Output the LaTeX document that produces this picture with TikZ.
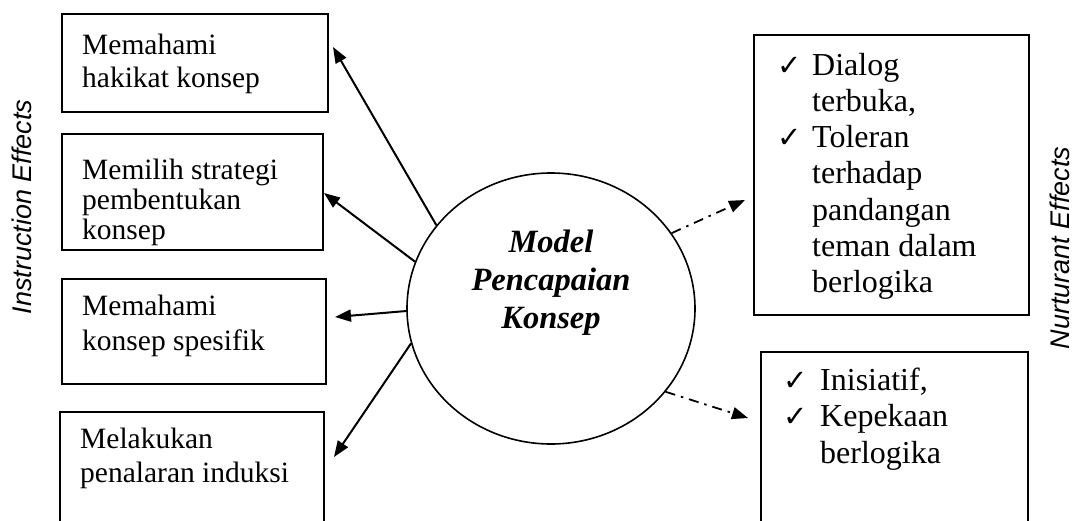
\documentclass[tikz,border=0pt]{standalone}
\usepackage{fontspec}
\setmainfont{Liberation Serif}
\setsansfont{Liberation Sans}
\newfontfamily\symfont{DejaVu Sans}
\usetikzlibrary{arrows.meta,shapes.geometric}

% check mark for the bullet lists
\newcommand\chk{{\symfont\fontsize{29}{29}\selectfont ✓}}
% block of lines with fixed line spacing, baseline at the first line
\newcommand\lineblock[2][8cm]{\parbox[t]{#1}{\lineskiplimit=-100pt\relax #2}}

\begin{document}
\begin{tikzpicture}[x=1pt,y=-1pt,
  effectbox/.style={draw, line width=1.7pt, rectangle, inner sep=0pt},
  txt/.style={anchor=base west, inner sep=0pt},
  side/.style={rotate=90, inner sep=0pt, font=\sffamily\itshape\fontsize{27}{27}\selectfont},
  arr/.style={line width=2pt, -{Triangle[length=16pt,width=12pt]}},
  dasharr/.style={line width=1.8pt, dash pattern=on 10pt off 6pt on 2.5pt off 6pt,
    -{Triangle[length=16pt,width=12pt]}},
]
\useasboundingbox (0,0) rectangle (1080,520);
\clip (0,0) rectangle (1080,520);

% instruction effects (left column)
\node[effectbox, minimum width=266pt, minimum height=98pt, anchor=north west] (b1) at (61,13) {};
\node[effectbox, minimum width=261pt, minimum height=116pt, anchor=north west] (b2) at (61,133) {};
\node[effectbox, minimum width=264pt, minimum height=105pt, anchor=north west] (b3) at (61,278) {};
\node[effectbox, minimum width=264pt, minimum height=130pt, anchor=north west] (b4) at (59,411) {};

\node[txt, font=\fontsize{29.5}{33}\selectfont] (t1) at (82,54) {\lineblock{Memahami\\hakikat konsep}};
\node[txt, font=\fontsize{29.5}{30}\selectfont] (t2) at (82,179) {\lineblock{Memilih strategi\\pembentukan\\konsep}};
\node[txt, font=\fontsize{29.5}{35}\selectfont] (t3) at (82,315) {\lineblock{Memahami\\konsep spesifik}};
\node[txt, font=\fontsize{29.5}{34}\selectfont] (t4) at (80,448) {\lineblock{Melakukan\\penalaran induksi}};

% nurturant effects (right column)
\node[effectbox, minimum width=275pt, minimum height=280pt, anchor=north west] (r1) at (753,34) {};
\node[effectbox, minimum width=267pt, minimum height=190pt, anchor=north west] (r2) at (760,351) {};

\node[txt, font=\fontsize{32}{36.3}\selectfont] (t5) at (777,75) {\lineblock{%
  \makebox[35pt][l]{\chk}Dialog\\
  \hspace*{35pt}terbuka,\\
  \makebox[35pt][l]{\chk}Toleran\\
  \hspace*{35pt}terhadap\\
  \hspace*{35pt}pandangan\\
  \hspace*{35pt}teman dalam\\
  \hspace*{35pt}berlogika}};
\node[txt, font=\fontsize{32}{36.5}\selectfont] (t6) at (783,390) {\lineblock{%
  \makebox[37pt][l]{\chk}Inisiatif,\\
  \makebox[37pt][l]{\chk}Kepekaan\\
  \hspace*{37pt}berlogika}};

% the model in the middle
\node[ellipse, draw, line width=1.6pt, minimum width=288pt, minimum height=271pt, inner sep=0pt] (m) at (551,308.5) {};
\node[anchor=base, inner sep=0pt, font=\bfseries\itshape\fontsize{32.5}{38}\selectfont] (mt) at (551,252)
  {\parbox[t]{220pt}{\centering\lineskiplimit=-100pt\relax Model\\Pencapaian\\Konsep}};

% side captions
\node[side] (ie) at (22,207) {Instruction Effects};
\node[side] (ne) at (1060,248) {Nurturant Effects};

% arrow tips
\coordinate (p1) at (333,47);
\coordinate (p2) at (324,193);
\coordinate (p3) at (335,317);
\coordinate (p4) at (334,457);
\coordinate (q1) at (745,200);
\coordinate (q2) at (748,418);

\draw[arr] (m.144.5) -- (p1);
\draw[arr] (m.161.9) -- (p2);
\draw[arr] (m.181.8) -- (p3);
\draw[arr] (m.194.8) -- (p4);
\draw[dasharr] (m.32) -- (q1);
\draw[dasharr] (m.324.4) -- (q2);
\end{tikzpicture}
\end{document}
